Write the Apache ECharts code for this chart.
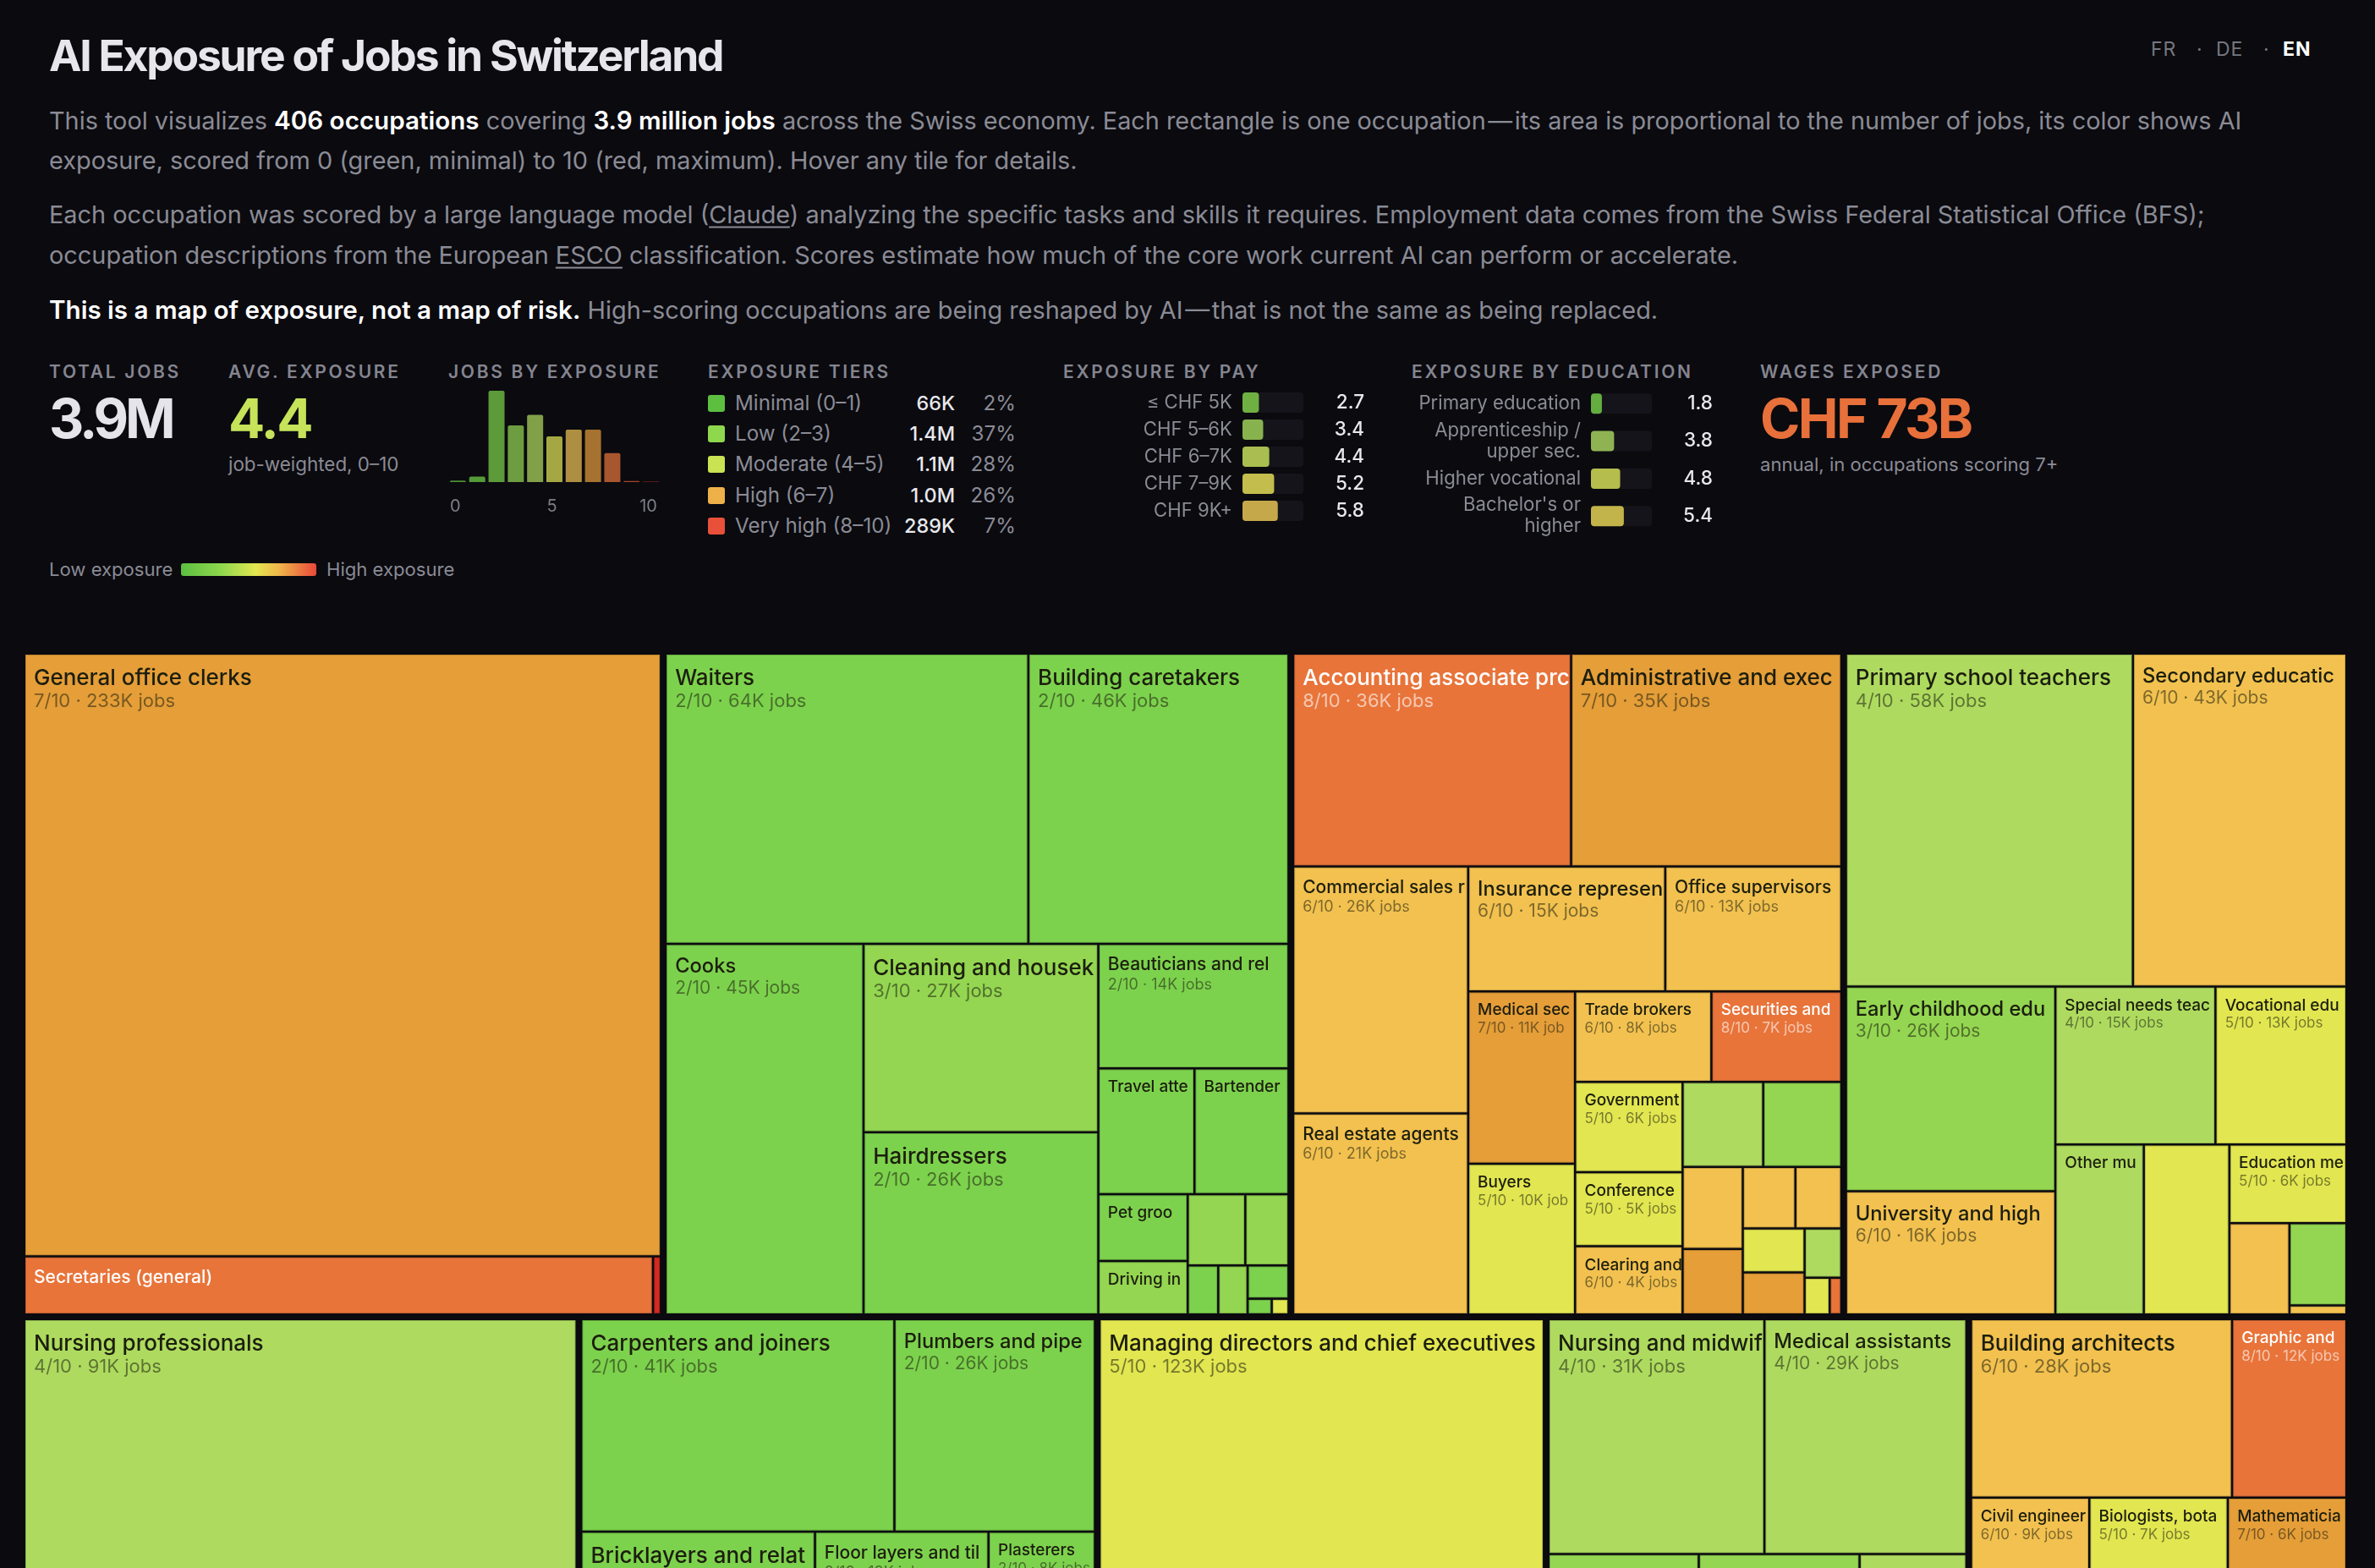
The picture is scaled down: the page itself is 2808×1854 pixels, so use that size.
<!DOCTYPE html>
<html>
<head>
<meta charset="utf-8">
<title>AI Exposure of Jobs in Switzerland</title>
<script src="https://cdn.jsdelivr.net/npm/echarts@6/dist/echarts.min.js"></script>
<style>
html, body { margin: 0; width: 2808px; height: 1854px; overflow: hidden; background: #0a0a0f; font-family: Inter, "Noto Sans", sans-serif; }
.t { position: absolute; white-space: nowrap; line-height: 1; transform: translateY(-50%); color: #8b8b95; }
.r { transform: translate(-100%, -50%); }
.para { font-size: 28.9px; }
.para b { color: #fff; font-weight: 600; font-size: 29.6px; }
.para u { text-underline-offset: 4px; }
.head { font-size: 21px; font-weight: 600; letter-spacing: 2.7px; color: #85858f; }
.big { font-size: 64px; font-weight: 700; letter-spacing: -2.6px; }
.small { font-size: 22.1px; }
.row { font-size: 24.2px; }
.num { font-size: 23.4px; color: #e8e8ec; font-weight: 500; }
.swatch { position: absolute; width: 20px; height: 20px; border-radius: 3px; }
#hist, #pay, #edu, #tree { position: absolute; }
#hist { left: 520px; top: 450px; width: 270px; height: 170px; }
#pay { left: 1257px; top: 460px; width: 370px; height: 160px; }
#edu { left: 1669px; top: 455px; width: 370px; height: 180px; }
#tree { left: 30px; top: 774px; width: 2743px; height: 3560px; }
</style>
</head>
<body>
<div class="t" style="left:58px;top:66px;font-size:51.5px;font-weight:700;letter-spacing:-2.2px;color:#e6e6ec">AI Exposure of Jobs in Switzerland</div>
<div class="t" style="left:2543px;top:58px;font-size:23px;letter-spacing:1px;color:#76767f">FR</div>
<div class="t" style="left:2597px;top:58px;font-size:23px;color:#76767f">·</div>
<div class="t" style="left:2620px;top:58px;font-size:23px;letter-spacing:1px;color:#76767f">DE</div>
<div class="t" style="left:2676px;top:58px;font-size:23px;color:#76767f">·</div>
<div class="t" style="left:2699px;top:58px;font-size:23px;letter-spacing:1px;font-weight:700;color:#fff">EN</div>

<div class="t para" style="left:58px;top:143px;font-size:28.84px">This tool visualizes <b>406 occupations</b> covering <b>3.9 million jobs</b> across the Swiss economy. Each rectangle is one occupation&#8202;—&#8202;its area is proportional to the number of jobs, its color shows AI</div>
<div class="t para" style="left:58px;top:190px">exposure, scored from 0 (green, minimal) to 10 (red, maximum). Hover any tile for details.</div>
<div class="t para" style="left:58px;top:254px">Each occupation was scored by a large language model (<u>Claude</u>) analyzing the specific tasks and skills it requires. Employment data comes from the Swiss Federal Statistical Office (BFS);</div>
<div class="t para" style="left:58px;top:302px">occupation descriptions from the European <u>ESCO</u> classification. Scores estimate how much of the core work current AI can perform or accelerate.</div>
<div class="t para" style="left:58px;top:367px"><b>This is a map of exposure, not a map of risk.</b> High-scoring occupations are being reshaped by AI&#8202;—&#8202;that is not the same as being replaced.</div>

<div class="t head" style="left:58px;top:439px">TOTAL JOBS</div>
<div class="t big" style="left:58px;top:495px;color:#e4e4ea;letter-spacing:-4px">3.9M</div>
<div class="t head" style="left:270px;top:439px">AVG. EXPOSURE</div>
<div class="t big" style="left:270px;top:495px;color:#c6e35a">4.4</div>
<div class="t small" style="left:270px;top:549px;font-size:22.4px">job-weighted, 0–10</div>
<div class="t head" style="left:530px;top:439px">JOBS BY EXPOSURE</div>
<div class="t head" style="left:837px;top:439px">EXPOSURE TIERS</div>
<div id="tiers"></div>
<div class="t head" style="left:1257px;top:439px">EXPOSURE BY PAY</div>
<div class="t head" style="left:1669px;top:439px">EXPOSURE BY EDUCATION</div>
<div class="t head" style="left:2081px;top:439px">WAGES EXPOSED</div>
<div class="t big" style="left:2081px;top:495px;color:#e8703a">CHF 73B</div>
<div class="t small" style="left:2081px;top:549px">annual, in occupations scoring 7+</div>

<div class="t small" style="left:58px;top:673px">Low exposure</div>
<div style="position:absolute;left:214px;top:666px;width:160px;height:15px;border-radius:3px;background:linear-gradient(90deg,#5cbf40,#8fd84e 30%,#e2e650 55%,#f0b84a 72%,#e8483a)"></div>
<div class="t small" style="left:386px;top:673px">High exposure</div>

<div id="hist"></div>
<div id="pay"></div>
<div id="edu"></div>
<div id="tree"></div>

<script type="text/javascript">
// header numbers
var histBins = ['0', '1', '2', '3', '4', '5', '6', '7', '8', '9', '10'];
var histJobs = [14, 52, 870, 540, 640, 435, 500, 500, 275, 10, 4];   // thousands

var tierNames = ['Minimal (0–1)', 'Low (2–3)', 'Moderate (4–5)', 'High (6–7)', 'Very high (8–10)'];
var tierJobs = ['66K', '1.4M', '1.1M', '1.0M', '289K'];
var tierShares = ['2%', '37%', '28%', '26%', '7%'];

var payNames = ['≤ CHF 5K', 'CHF 5–6K', 'CHF 6–7K', 'CHF 7–9K', 'CHF 9K+'];
var payScores = [2.7, 3.4, 4.4, 5.2, 5.8];

var eduNames = ['Primary education', 'Apprenticeship /\nupper sec.', 'Higher vocational', "Bachelor's or\nhigher"];
var eduScores = [1.8, 3.8, 4.8, 5.4];

// treemap groups: jobs are in thousands, names as far as the tile shows them, empty name = no label
var clericalNames = ['General office clerks', 'Secretaries (general)', ''];
var clericalJobs = [233.2, 22.2, 0.28];
var clericalScores = [7, 8, 10];

var serviceNames = ['Waiters', 'Building caretakers', 'Cooks', 'Cleaning and housek', 'Hairdressers', 'Beauticians and rel', 'Travel atte', 'Bartender', 'Pet groo', 'Driving in', '', '', '', '', '', '', ''];
var serviceJobs = [64, 45.9, 44.6, 26.9, 26, 14.4, 7.36, 7.2, 3.63, 2.9, 2.49, 1.87, 0.91, 0.875, 0.83, 0.23, 0.16];
var serviceScores = [2, 2, 2, 3, 2, 2, 2, 2, 2, 3, 3, 3, 2, 3, 2, 2, 5];

var businessNames = ['Accounting associate prc', 'Administrative and exec', 'Commercial sales r', 'Real estate agents', 'Insurance represen', 'Office supervisors', 'Medical sec', 'Buyers', 'Trade brokers', 'Securities and', 'Government', 'Conference', 'Clearing and', '', '', '', '', '', '', '', '', '', '', ''];
var businessJobs = [36, 35, 26.3, 21.4, 15, 13.4, 11.2, 9.8, 7.5, 7.15, 5.9, 4.85, 4.46, 4.17, 4.04, 3, 2.4, 1.97, 1.72, 1.65, 1.58, 1.1, 0.56, 0.26];
var businessScores = [8, 7, 6, 6, 6, 6, 7, 5, 6, 8, 5, 5, 6, 4, 3, 6, 7, 6, 6, 5, 7, 4, 5, 8];

var educationNames = ['Primary school teachers', 'Secondary educatic', 'Early childhood edu', 'University and high', 'Special needs teac', 'Vocational edu', 'Other mu', '', 'Education me', '', '', ''];
var educationJobs = [58.2, 43.3, 26.1, 15.7, 15.4, 12.6, 9.15, 8.85, 5.6, 3.34, 2.86, 0.31];
var educationScores = [4, 6, 3, 6, 4, 5, 4, 5, 5, 6, 3, 6];

// second row, the empty tiles at the end of each list lie below the fold (estimated)
var nursingNames = ['Nursing professionals', '', '', '', ''];
var nursingJobs = [91, 30, 30, 20, 15.1];
var nursingScores = [4, 4, 4, 4, 4];

var buildingNames = ['Carpenters and joiners', 'Plumbers and pipe', 'Bricklayers and relat', '', 'Floor layers and til', 'Plasterers', '', '', ''];
var buildingJobs = [40.6, 26, 25.5, 23, 13.2, 8.1, 5, 15, 16.8];
var buildingScores = [2, 2, 2, 2, 2, 2, 2, 2, 2];

var managerNames = ['Managing directors and chief executives', ''];
var managerJobs = [123, 27];
var managerScores = [5, 5];

var healthNames = ['Nursing and midwif', 'Medical assistants', '', '', '', '', '', '', ''];
var healthJobs = [31, 29, 16.5, 12.7, 15.5, 10.3, 5, 9, 12.2];
var healthScores = [4, 4, 3, 3, 3, 4, 4, 4, 4];

var scienceNames = ['Building architects', 'Graphic and', 'Civil engineer', '', '', 'Biologists, bota', 'Mathematicia', '', '', ''];
var scienceJobs = [28.49, 12.49, 9.1, 9, 9, 7, 6, 2.5, 20, 23.41];
var scienceScores = [6, 8, 6, 6, 6, 5, 7, 6, 6, 6];

// everything further down, off the page; large enough to keep the rest of the map taller than wide
var otherJobs = 2501.4;

var scoreColors = { 2: '#7dd24d', 3: '#94d651', 4: '#aedb5f', 5: '#e2e650', 6: '#f2c14f', 7: '#e59e38', 8: '#e8743a', 10: '#d42a20' };
var scoreEdges = { 2: '#65a83f', 3: '#78ad43', 4: '#8db04e', 5: '#b6b942', 6: '#c39c41', 7: '#b9802f', 8: '#bb5e30', 10: '#aa231b' };
var tierColors = ['#5cbf40', '#8fd84e', '#c9e352', '#eeb048', '#e8503a'];
var histColors = ['#4d8f33', '#549a37', '#5d9a3a', '#6e9c40', '#81a048', '#a5a842', '#ae8f41', '#a5722f', '#a8562e', '#a8452a', '#a32b20'];
var payColors = ['#6fb043', '#88b24e', '#a9bd50', '#c2bd4c', '#c4a84a'];
var eduColors = ['#64ad40', '#8fb352', '#b5bd4c', '#c2b44a'];

// label sizes depend on the tile in the original, listed by hand here
var sizeLarge = ['General office clerks', 'Waiters', 'Building caretakers', 'Accounting associate prc', 'Administrative and exec', 'Primary school teachers', 'Cleaning and housek', 'Hairdressers', 'Nursing professionals', 'Carpenters and joiners', 'Managing directors and chief executives', 'Building architects', 'Bricklayers and relat', 'Nursing and midwif'];
var sizeMedium = ['Cooks', 'Medical assistants', 'Plumbers and pipe', 'Secondary educatic', 'Insurance represen', 'Early childhood edu', 'University and high'];
var sizeSmall = ['Secretaries (general)', 'Commercial sales r', 'Real estate agents', 'Office supervisors', 'Beauticians and rel', 'Floor layers and til'];
var titleOnly = ['Secretaries (general)', 'Travel atte', 'Bartender', 'Pet groo', 'Driving in', 'Other mu'];
var clippedJobs = ['Medical sec', 'Buyers'];   // "jobs" runs out of the tile there

function labelFor(name, jobs, score) {
	if (!name) return { show: false };
	var title = 19, sub = 17, line = 23, subLine = 20, pad = 8.5;
	if (sizeLarge.indexOf(name) >= 0) { title = 26; sub = 22; line = 30; subLine = 24; pad = 12; }
	else if (sizeMedium.indexOf(name) >= 0) { title = 23.7; sub = 21; line = 28; subLine = 24; pad = 11; }
	else if (sizeSmall.indexOf(name) >= 0) { title = 21; sub = 18; line = 25; subLine = 21; pad = 10.5; }
	var light = score >= 8;
	var text = '{t|' + name + '}';
	var word = clippedJobs.indexOf(name) >= 0 ? 'job' : 'jobs';
	if (titleOnly.indexOf(name) < 0) text += '\n{s|' + score + '/10 · ' + Math.round(jobs) + 'K ' + word + '}';
	return {
		show: true,
		position: 'insideTopLeft',
		padding: [pad, 0, 0, 9],
		overflow: 'none',
		formatter: text,
		rich: {
			t: { fontFamily: 'Inter', fontSize: title, fontWeight: 500, lineHeight: line, color: light ? '#fff' : '#1c1e0e' },
			s: { fontFamily: 'Inter', fontSize: sub, lineHeight: subLine, color: light ? 'rgba(255,255,255,0.6)' : 'rgba(28,30,14,0.55)' }
		}
	};
}

function group(names, jobs, scores) {
	return {
		name: '',
		children: jobs.map(function (v, i) {
			return {
				name: names[i],
				value: v,
				itemStyle: { color: scoreColors[scores[i]], borderWidth: 1, borderColor: scoreEdges[scores[i]] },
				label: labelFor(names[i], v, scores[i])
			};
		})
	};
}

var treeData = [
	group(clericalNames, clericalJobs, clericalScores),
	group(serviceNames, serviceJobs, serviceScores),
	group(businessNames, businessJobs, businessScores),
	group(educationNames, educationJobs, educationScores),
	group(nursingNames, nursingJobs, nursingScores),
	group(buildingNames, buildingJobs, buildingScores),
	group(managerNames, managerJobs, managerScores),
	group(healthNames, healthJobs, healthScores),
	group(scienceNames, scienceJobs, scienceScores),
	{ name: '', value: otherJobs, itemStyle: { color: '#0a0a0f' }, label: { show: false } }
];

var tree_chart = echarts.init(document.getElementById('tree'));
tree_chart.setOption({
	animation: false,
	series: [{
		type: 'treemap',
		left: 0, top: 0, right: 0, bottom: 0,
		sort: false,
		squareRatio: 1.018,
		roam: false,
		nodeClick: false,
		visibleMin: 0,
		breadcrumb: { show: false },
		levels: [
			{ itemStyle: { gapWidth: 8, borderWidth: 0, borderColor: '#0a0a0f' } },
			{ itemStyle: { gapWidth: 2.5, borderWidth: 0, borderColor: '#0a0a0f' } },
			{ itemStyle: { borderWidth: 1 } }
		],
		data: treeData
	}]
});

// tier table
var tierHtml = '';
tierNames.forEach(function (n, i) {
	var y = 477 + i * 36.2;
	tierHtml += '<div class="swatch" style="left:837px;top:' + (y - 10) + 'px;background:' + tierColors[i] + '"></div>';
	tierHtml += '<div class="t row" style="left:869px;top:' + y + 'px">' + n + '</div>';
	tierHtml += '<div class="t r num" style="left:1129px;top:' + y + 'px">' + tierJobs[i] + '</div>';
	tierHtml += '<div class="t r row" style="left:1201px;top:' + y + 'px">' + tierShares[i] + '</div>';
});
document.getElementById('tiers').innerHTML = tierHtml;

// histogram
var hist_chart = echarts.init(document.getElementById('hist'));
hist_chart.setOption({
	animation: false,
	grid: { left: 10, right: 9, top: 12, bottom: 50 },
	xAxis: {
		type: 'category',
		data: histBins,
		axisLine: { show: false },
		axisTick: { show: false },
		axisLabel: { interval: 4, margin: 19, padding: [0, 6, 0, 0], color: '#7d7d87', fontFamily: 'Inter', fontSize: 20 }
	},
	yAxis: { type: 'value', min: 0, max: 870, show: false },
	series: [{
		type: 'bar',
		barWidth: 19,
		data: histJobs.map(function (v, i) {
			return { value: v, itemStyle: { color: histColors[i], borderRadius: [2, 2, 0, 0] } };
		})
	}]
});

function scoreBars(id, names, scores, colors) {
	var chart = echarts.init(document.getElementById(id));
	chart.setOption({
		animation: false,
		grid: { left: 212, right: 86, top: 0, bottom: 0 },
		xAxis: { type: 'value', min: 0, max: 10, show: false },
		yAxis: [{
			type: 'category',
			inverse: true,
			data: names,
			axisLine: { show: false },
			axisTick: { show: false },
			axisLabel: { margin: 12, color: '#8b8b95', fontFamily: 'Inter', fontSize: 22.2, lineHeight: 25 }
		}, {
			type: 'category',
			inverse: true,
			position: 'right',
			data: scores.map(function (v) { return v.toFixed(1); }),
			axisLine: { show: false },
			axisTick: { show: false },
			axisLabel: { margin: 72, align: 'right', color: '#e8e8ec', fontFamily: 'Inter', fontSize: 22.5, fontWeight: 500 }
		}],
		series: [{
			type: 'bar',
			barWidth: 24,
			showBackground: true,
			backgroundStyle: { color: '#14141a', borderRadius: 4 },
			data: scores.map(function (v, i) {
				return { value: v, itemStyle: { color: colors[i], borderRadius: 4 } };
			})
		}]
	});
}
scoreBars('pay', payNames, payScores, payColors);
scoreBars('edu', eduNames, eduScores, eduColors);
</script>
</body>
</html>
